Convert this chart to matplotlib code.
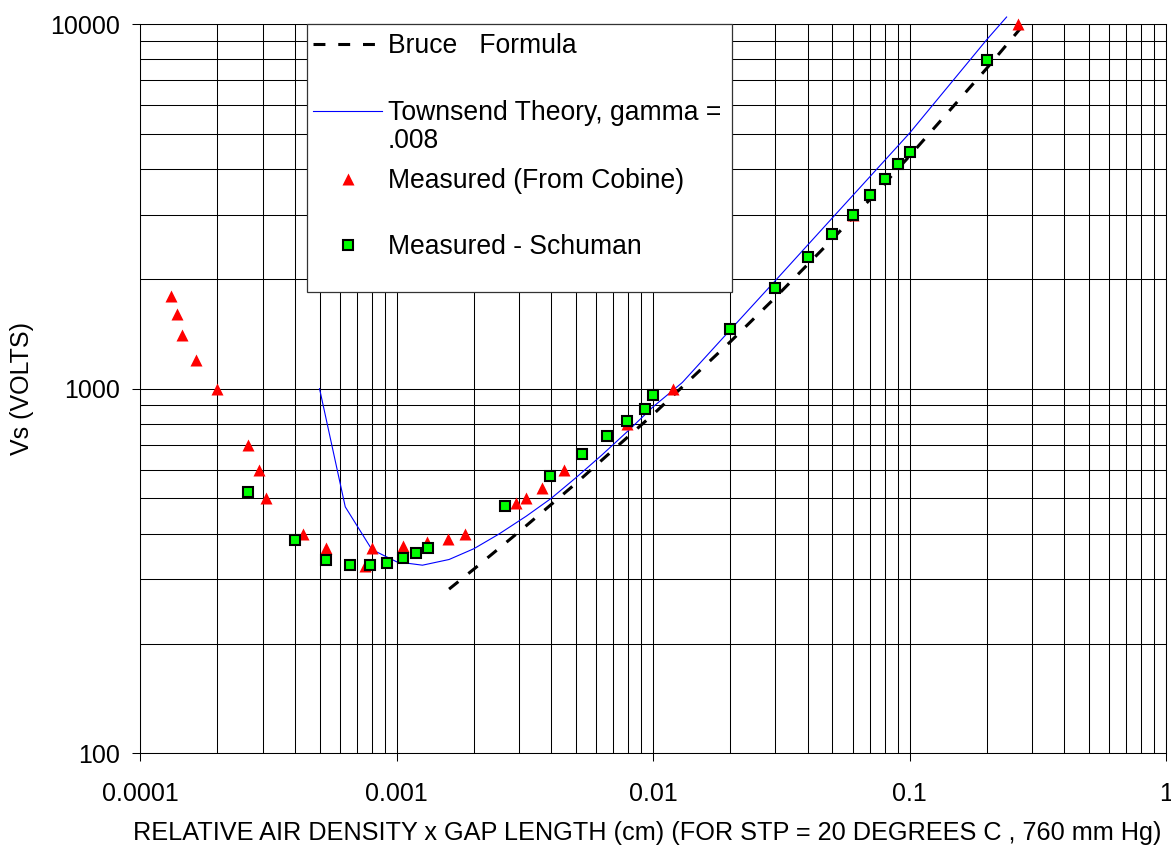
import matplotlib
matplotlib.use("Agg")
import matplotlib.pyplot as plt
from matplotlib.legend import Legend
from matplotlib.patches import Rectangle
from matplotlib.ticker import NullFormatter

plt.rcParams['font.family'] = ['Liberation Sans', 'DejaVu Sans']

# ---------------- data ----------------
bruce_x = [0.0016, 0.002, 0.003, 0.004, 0.005, 0.007, 0.01, 0.02, 0.03,
           0.05, 0.07, 0.1, 0.2, 0.29]
bruce_v = [282, 320, 405, 481, 550, 680, 850, 1345, 1780,
           2570, 3300, 4345, 7560, 10300]

townsend_x = [0.0005, 0.00063, 0.0008, 0.001, 0.00126, 0.0016, 0.002, 0.0025,
              0.0032, 0.004, 0.005, 0.0063, 0.008, 0.01, 0.013, 0.02, 0.03,
              0.05, 0.1, 0.2, 0.239]
townsend_v = [1000, 474, 362, 335, 328, 340, 364, 399,
              447, 500, 570, 657, 767, 892, 1040, 1450, 1980,
              2940, 5020, 9060, 10450]

cobine_x = [1.32e-4, 1.39e-4, 1.45e-4, 1.65e-4, 2.0e-4, 2.63e-4, 2.9e-4,
            3.1e-4, 4.3e-4, 5.3e-4, 7.5e-4, 8.0e-4, 1.06e-3, 1.31e-3,
            1.58e-3, 1.85e-3, 2.93e-3, 3.18e-3, 3.7e-3, 4.5e-3, 7.9e-3,
            1.19e-2, 6.0e-2, 0.265]
cobine_v = [1800, 1600, 1400, 1200, 1000, 700, 600,
            500, 400, 365, 326, 365, 370, 380,
            387, 400, 486, 500, 535, 600, 800,
            1000, 3000, 10000]

schuman_x = [2.63e-4, 4.0e-4, 5.3e-4, 6.6e-4, 7.9e-4, 9.2e-4, 1.06e-3,
             1.19e-3, 1.32e-3, 2.64e-3, 3.96e-3, 5.3e-3, 6.6e-3, 7.9e-3,
             9.3e-3, 1.0e-2, 2.0e-2, 3.0e-2, 4.0e-2, 5.0e-2, 6.0e-2,
             7.0e-2, 8.0e-2, 9.0e-2, 0.1, 0.2]
schuman_v = [520, 385, 338, 329, 329, 333, 344,
             354, 365, 478, 575, 660, 740, 814,
             880, 960, 1460, 1890, 2290, 2650, 3000,
             3390, 3750, 4120, 4470, 7970]

x_ticks = [0.0001, 0.001, 0.01, 0.1, 1]
x_tick_labels = ["0.0001", "0.001", "0.01", "0.1", "1"]
y_ticks = [100, 1000, 10000]
y_tick_labels = ["100", "1000", "10000"]

series_labels = ["Bruce   Formula", "Townsend Theory, gamma =", ".008",
                 "Measured (From Cobine)", "Measured - Schuman"]
x_label = "RELATIVE AIR DENSITY x GAP LENGTH (cm) (FOR STP = 20 DEGREES C , 760 mm Hg)"
y_label = "Vs (VOLTS)"

# ---------------- figure ----------------
W, H = 1171, 846
fig = plt.figure(figsize=(W / 100, H / 100), dpi=100)
ax = fig.add_axes([140.3 / W, 1 - 753.3 / H, 1025.7 / W, 729.3 / H])

ax.set_xscale('log')
ax.set_yscale('log')
ax.set_xlim(1e-4, 1)
ax.set_ylim(100, 10000)

ax.grid(True, which='both', color='black', lw=0.75)
ax.set_axisbelow(True)

ax.set_xticks(x_ticks, x_tick_labels)
ax.set_yticks(y_ticks, y_tick_labels)
ax.xaxis.set_minor_formatter(NullFormatter())
ax.yaxis.set_minor_formatter(NullFormatter())
ax.tick_params(which='major', direction='out', length=5.5, width=0.75,
               labelsize=18, colors='black')
ax.tick_params(axis='x', which='major', pad=15.0)
ax.tick_params(axis='y', which='major', pad=9)
ax.tick_params(which='minor', length=0)
for sp in ax.spines.values():
    sp.set_color('black')
    sp.set_linewidth(0.75)

h_bruce, = ax.plot(bruce_x, bruce_v, color='black', lw=2.2, dashes=(3.9, 4.2),
                   zorder=3, clip_on=False)
h_town, = ax.plot(townsend_x, townsend_v, color='#0000FF', lw=0.8,
                  zorder=3, clip_on=False)
h_cob, = ax.plot(cobine_x, cobine_v, ls='none', marker='^', ms=9,
                 color='#FF0000', mec='none', zorder=4, clip_on=False)
h_sch, = ax.plot(schuman_x, schuman_v, ls='none', marker='s', ms=7,
                 mfc='#00FF00', mec='black', mew=1.5, zorder=5, clip_on=False)

ax.set_xlabel(x_label, fontsize=18.2)
ax.xaxis.set_label_coords(0.4945, (753.3 - 839.5) / 729.3)
ax.xaxis.label.set_verticalalignment('baseline')
ax.set_ylabel(y_label, fontsize=18)
ax.yaxis.set_label_coords(-0.1036, 0.5)

# ---------------- legend ----------------
frame = Rectangle((0.1628, 0.633), 0.4138, 0.367, transform=ax.transAxes,
                  facecolor='white', edgecolor='#333333', lw=0.9, zorder=6,
                  clip_on=False)
ax.add_patch(frame)

LEG_FS = 19.1
entries = [(h_bruce, series_labels[0], 0.9696),
           (h_town, series_labels[1], 0.8780),
           (h_cob, series_labels[3], 0.7848),
           (h_sch, series_labels[4], 0.6936)]
for h, lab, ya in entries:
    leg = Legend(ax, [h], [lab], loc='center left', bbox_to_anchor=(0.1684, ya),
                 bbox_transform=ax.transAxes, frameon=False, borderpad=0,
                 borderaxespad=0, handlelength=2.6, handletextpad=0.226,
                 numpoints=1, fontsize=LEG_FS)
    leg.set_zorder(7)
    ax.add_artist(leg)

ax.text(0.2415, 0.8296, series_labels[2], transform=ax.transAxes,
        fontsize=LEG_FS, va='baseline', ha='left', zorder=7)

fig.savefig("out.png", dpi=100)
